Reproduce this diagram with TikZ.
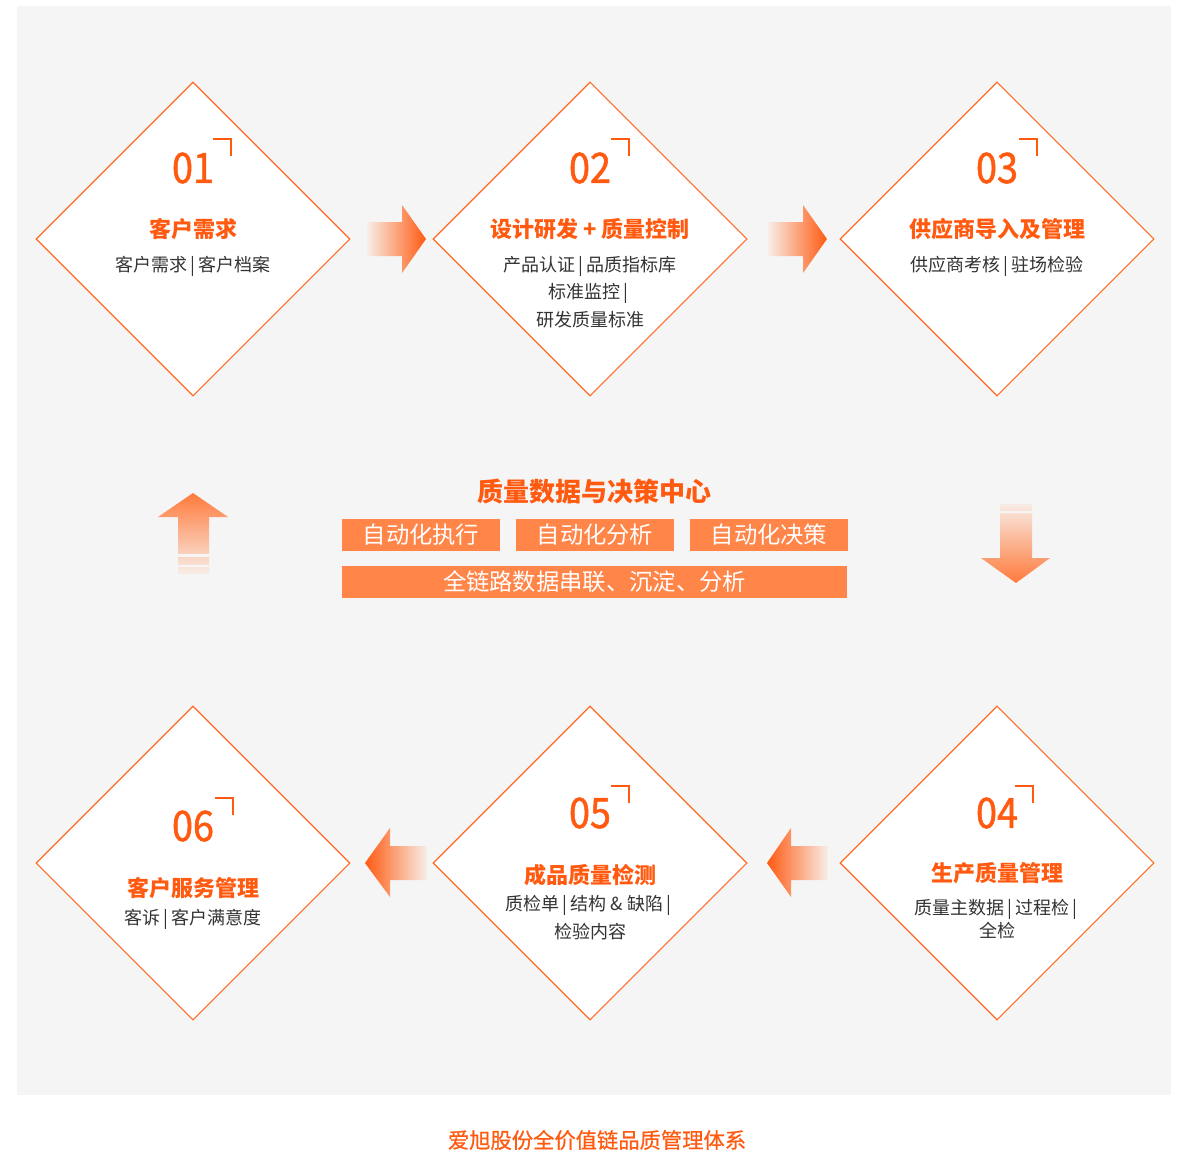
\documentclass[tikz,border=0pt]{standalone}
\usepackage{fontspec}
\setmainfont{Noto Sans CJK SC}
\newfontfamily\numfont[FakeBold=1.2,FakeStretch=0.9]{Noto Sans CJK SC}
\newfontfamily\medfont[FakeBold=0.6]{Noto Sans CJK SC}
\usetikzlibrary{shapes.geometric}
\definecolor{bg}{HTML}{F5F5F5}
\definecolor{org}{HTML}{FF5A0F}
\definecolor{edge}{HTML}{FF6A24}
\definecolor{boxc}{HTML}{FF8549}
\definecolor{fade}{HTML}{F8EEE8}
\definecolor{arr}{HTML}{FF5A12}
\definecolor{arrB}{HTML}{FF7A3C}
\definecolor{txt}{HTML}{333333}
\tikzset{
  dia/.style={diamond,aspect=1,draw=edge,line width=1.1pt,fill=white,minimum width=314pt,minimum height=314pt,inner sep=0pt},
  num/.style={text=org,font=\numfont\fontsize{42}{44}\selectfont,inner sep=0pt},
  ttl/.style={text=org,font=\bfseries\fontsize{22}{24}\selectfont,inner sep=0pt},
  sub/.style={text=txt,font=\fontsize{18}{20}\selectfont,inner sep=0pt},
  corner/.style={draw=org,line width=1.8pt},
  cbox/.style={fill=boxc,text=white,font=\fontsize{23.3}{26}\selectfont,inner sep=0pt,minimum height=32pt},
}
\newcommand{\sepbar}{\,|\,}
\begin{document}
\begin{tikzpicture}[x=1pt,y=-1pt]
\useasboundingbox (0,0) rectangle (1180,1153);
\fill[white] (0,0) rectangle (1180,1153);
\fill[bg] (17,6) rectangle (1171,1095);

% diamonds
\node[dia] (d1) at (193,239) {};
\node[dia] (d2) at (590,239) {};
\node[dia] (d3) at (997,239) {};
\node[dia] (d4) at (997,863) {};
\node[dia] (d5) at (590,863) {};
\node[dia] (d6) at (193,863) {};

% diamond 1
\node[num] (n1) at ([yshift=71pt]d1.center) {01};
\draw[corner] ([xshift=20pt,yshift=100pt]d1.center) -- ++(18,0) -- ++(0,17);
\node[ttl] (t1) at ([yshift=10pt]d1.center) {客户需求};
\node[sub] (s1) at ([yshift=-27pt]d1.center) {客户需求\sepbar 客户档案};

% diamond 2
\node[num] (n2) at ([yshift=71pt]d2.center) {02};
\draw[corner] ([xshift=21pt,yshift=100pt]d2.center) -- ++(18,0) -- ++(0,17);
\node[ttl] (t2) at ([yshift=10pt]d2.center) {设计研发 + 质量控制};
\node[sub] (s2a) at ([yshift=-27pt]d2.center) {产品认证\sepbar 品质指标库};
\node[sub] (s2b) at ([yshift=-54pt]d2.center) {标准监控\sepbar};
\node[sub] (s2c) at ([yshift=-81pt]d2.center) {研发质量标准};

% diamond 3
\node[num] (n3) at ([yshift=71pt]d3.center) {03};
\draw[corner] ([xshift=22pt,yshift=100pt]d3.center) -- ++(18,0) -- ++(0,17);
\node[ttl] (t3) at ([yshift=10pt]d3.center) {供应商导入及管理};
\node[sub] (s3) at ([yshift=-27pt]d3.center) {供应商考核\sepbar 驻场检验};

% diamond 4
\node[num] (n4) at ([yshift=50pt]d4.center) {04};
\draw[corner] ([xshift=18pt,yshift=77pt]d4.center) -- ++(18,0) -- ++(0,17);
\node[ttl] (t4) at ([yshift=-10pt]d4.center) {生产质量管理};
\node[sub] (s4a) at ([yshift=-46pt]d4.center) {质量主数据\sepbar 过程检\sepbar};
\node[sub] (s4b) at ([yshift=-68pt]d4.center) {全检};

% diamond 5
\node[num] (n5) at ([yshift=50pt]d5.center) {05};
\draw[corner] ([xshift=21pt,yshift=77pt]d5.center) -- ++(18,0) -- ++(0,17);
\node[ttl] (t5) at ([yshift=-12pt]d5.center) {成品质量检测};
\node[sub] (s5a) at ([yshift=-42pt]d5.center) {质检单\sepbar 结构 \& 缺陷\sepbar};
\node[sub] (s5b) at ([yshift=-69pt]d5.center) {检验内容};

% diamond 6
\node[num] (n6) at ([yshift=37pt]d6.center) {06};
\draw[corner] ([xshift=22pt,yshift=65pt]d6.center) -- ++(18,0) -- ++(0,17);
\node[ttl] (t6) at ([yshift=-25pt]d6.center) {客户服务管理};
\node[sub] (s6) at ([yshift=-56pt]d6.center) {客诉\sepbar 客户满意度};

% horizontal block arrows (right)
\shade[left color=fade,right color=arr] (367,222) -- (402,222) -- (402,205) -- (426,239) -- (402,273) -- (402,256) -- (367,256) -- cycle;
\shade[left color=fade,right color=arr] (768,222) -- (803,222) -- (803,205) -- (827,239) -- (803,273) -- (803,256) -- (768,256) -- cycle;
% left arrows
\shade[left color=arr,right color=fade] (427,846) -- (390,846) -- (390,828) -- (365,863) -- (390,897) -- (390,880) -- (427,880) -- cycle;
\shade[left color=arr,right color=fade] (828,846) -- (791,846) -- (791,828) -- (767,863) -- (791,897) -- (791,880) -- (828,880) -- cycle;

% up arrow
\shade[top color=arrB,bottom color=fade] (193,493) -- (228,517) -- (209,517) -- (209,574) -- (178,574) -- (178,517) -- (158,517) -- cycle;
\fill[bg] (176,554) rectangle (211,557);
\fill[bg] (176,565) rectangle (211,567);
% down arrow
\shade[top color=fade,bottom color=arrB] (1000,502) -- (1032,502) -- (1032,558) -- (1050,558) -- (1016,583) -- (981,558) -- (1000,558) -- cycle;
\fill[bg] (998,502) rectangle (1034,503.5);
\fill[bg] (998,511) rectangle (1034,513);

% center block
\node[text=org,font=\bfseries\fontsize{26}{28}\selectfont,inner sep=0pt] (ct) at (594,492) {质量数据与决策中心};
\node[cbox,minimum width=158pt] (b1) at (421,535) {自动化执行};
\node[cbox,minimum width=158pt] (b2) at (595,535) {自动化分析};
\node[cbox,minimum width=158pt] (b3) at (769,535) {自动化决策};
\node[cbox,minimum width=505pt] (b4) at (594.5,582) {全链路数据串联、沉淀、分析};

% caption
\node[text=org,font=\medfont\fontsize{21.3}{24}\selectfont,inner sep=0pt] (cap) at (597,1140) {爱旭股份全价值链品质管理体系};
\end{tikzpicture}
\end{document}
